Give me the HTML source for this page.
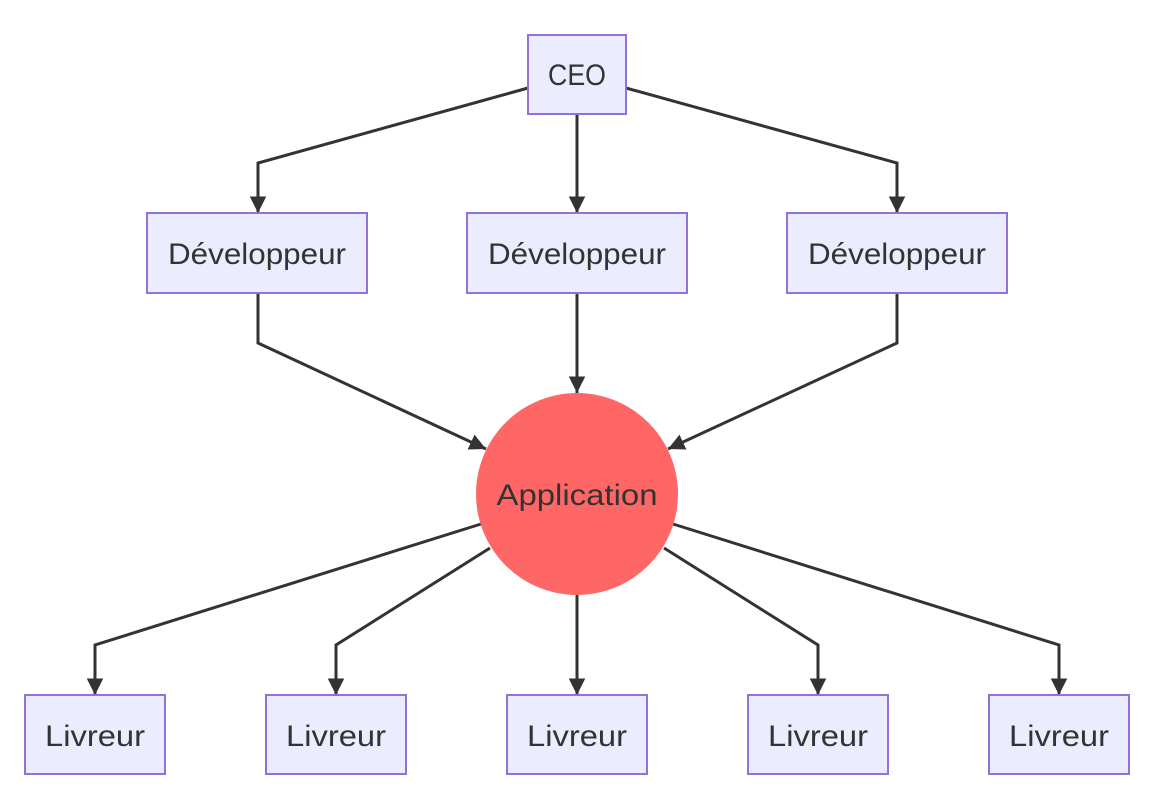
<!DOCTYPE html>
<html><head><meta charset="utf-8"><style>html,body{margin:0;padding:0;background:#fff}</style></head>
<body>
<svg width="1172" height="796" viewBox="0 0 1172 796" xmlns="http://www.w3.org/2000/svg" style="display:block">
<defs>
<marker id="a" viewBox="0 0 10 10" refX="10" refY="5" markerWidth="5.5" markerHeight="5.5" markerUnits="strokeWidth" orient="auto">
<path d="M0,0 L10,5 L0,10 z" fill="#333"/>
</marker>
</defs>
<g fill="none" stroke="#333" stroke-width="3" marker-end="url(#a)">
<polyline points="528,88 258,163 258,213"/>
<polyline points="577,114 577,213"/>
<polyline points="626,88 897,163 897,213"/>
<polyline points="258,293 258,343 486,449"/>
<polyline points="577,293 577,393"/>
<polyline points="897,293 897,343 668,449"/>
<polyline points="481,524 95,645 95,695"/>
<polyline points="490,548 336,645 336,695"/>
<polyline points="577,595 577,695"/>
<polyline points="664,548 818,645 818,695"/>
<polyline points="673,524 1059,645 1059,695"/>
</g>
<g fill="#ECECFF" stroke="#9370DB" stroke-width="2">
<rect x="528" y="35" width="98" height="79"/>
<rect x="147" y="213" width="220" height="80"/>
<rect x="467" y="213" width="220" height="80"/>
<rect x="787" y="213" width="220" height="80"/>
<rect x="25" y="695" width="140" height="79"/>
<rect x="266" y="695" width="140" height="79"/>
<rect x="507" y="695" width="140" height="79"/>
<rect x="748" y="695" width="140" height="79"/>
<rect x="989" y="695" width="140" height="79"/>
</g>
<circle cx="577" cy="494" r="101" fill="#FF6666"/>
<g font-family="Liberation Sans, sans-serif" font-size="30" fill="#333" text-anchor="middle">
<text x="577" y="85" textLength="58" lengthAdjust="spacingAndGlyphs">CEO</text>
<text x="257" y="264" textLength="178" lengthAdjust="spacingAndGlyphs">Développeur</text>
<text x="577" y="264" textLength="178" lengthAdjust="spacingAndGlyphs">Développeur</text>
<text x="897" y="264" textLength="178" lengthAdjust="spacingAndGlyphs">Développeur</text>
<text x="577" y="505" textLength="161" lengthAdjust="spacingAndGlyphs">Application</text>
<text x="95" y="746" textLength="100" lengthAdjust="spacingAndGlyphs">Livreur</text>
<text x="336" y="746" textLength="100" lengthAdjust="spacingAndGlyphs">Livreur</text>
<text x="577" y="746" textLength="100" lengthAdjust="spacingAndGlyphs">Livreur</text>
<text x="818" y="746" textLength="100" lengthAdjust="spacingAndGlyphs">Livreur</text>
<text x="1059" y="746" textLength="100" lengthAdjust="spacingAndGlyphs">Livreur</text>
</g>
</svg>
</body></html>
